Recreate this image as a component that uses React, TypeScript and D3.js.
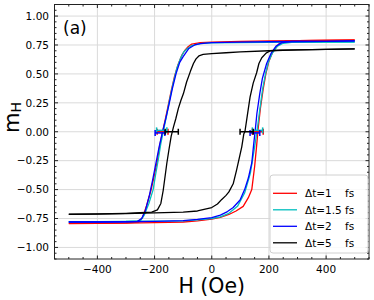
import { useRef, useEffect } from 'react';
import * as d3 from 'd3';

type Pt = [number, number];

// hysteresis branches, [H (Oe), m_H]
const dt1Down: Pt[] = [[500, 0.792], [400, 0.79], [300, 0.788], [200, 0.785], [100, 0.78], [0, 0.775], [-40, 0.77], [-70, 0.758], [-85, 0.73], [-95, 0.7], [-105, 0.66], [-118, 0.58], [-130, 0.48], [-142, 0.35], [-153, 0.22], [-163, 0.1], [-172, 0], [-182, -0.12], [-190, -0.25], [-203, -0.4], [-213, -0.51], [-228, -0.64], [-242, -0.74], [-255, -0.78], [-300, -0.787], [-400, -0.79], [-500, -0.792]];
const dt1Up: Pt[] = [[-500, -0.795], [-400, -0.792], [-300, -0.79], [-200, -0.786], [-100, -0.78], [-50, -0.77], [0, -0.755], [30, -0.74], [60, -0.715], [85, -0.685], [110, -0.645], [128, -0.57], [140, -0.5], [150, -0.3], [157, -0.12], [162, 0.02], [170, 0.2], [180, 0.37], [190, 0.51], [200, 0.61], [215, 0.7], [235, 0.76], [260, 0.785], [350, 0.79], [500, 0.795]];

const dt15Down: Pt[] = [[500, 0.775], [400, 0.776], [300, 0.774], [200, 0.772], [100, 0.77], [0, 0.768], [-40, 0.762], [-70, 0.745], [-85, 0.72], [-98, 0.69], [-110, 0.63], [-122, 0.55], [-135, 0.42], [-148, 0.27], [-158, 0.14], [-168, 0.02], [-178, -0.1], [-187, -0.24], [-197, -0.38], [-205, -0.5], [-220, -0.62], [-236, -0.72], [-250, -0.77], [-300, -0.775], [-400, -0.777], [-500, -0.778]];
const dt15Up: Pt[] = [[-500, -0.778], [-400, -0.777], [-300, -0.776], [-200, -0.773], [-100, -0.77], [-50, -0.762], [0, -0.75], [30, -0.735], [60, -0.705], [90, -0.645], [115, -0.53], [135, -0.36], [150, -0.13], [158, 0], [168, 0.19], [178, 0.37], [188, 0.5], [198, 0.6], [212, 0.68], [230, 0.74], [250, 0.765], [280, 0.772], [400, 0.776], [500, 0.778]];

const dt2Down: Pt[] = [[500, 0.785], [400, 0.782], [300, 0.78], [200, 0.778], [100, 0.775], [0, 0.77], [-40, 0.762], [-60, 0.75], [-80, 0.72], [-100, 0.65], [-112, 0.6], [-125, 0.5], [-138, 0.37], [-150, 0.23], [-162, 0.1], [-173, -0.01], [-184, -0.13], [-195, -0.27], [-207, -0.42], [-219, -0.56], [-232, -0.68], [-245, -0.75], [-260, -0.775], [-300, -0.778], [-400, -0.78], [-500, -0.78]];
const dt2Up: Pt[] = [[-500, -0.78], [-400, -0.78], [-300, -0.778], [-200, -0.775], [-100, -0.768], [-50, -0.758], [0, -0.742], [30, -0.72], [55, -0.69], [75, -0.655], [99, -0.59], [115, -0.5], [128, -0.4], [140, -0.27], [147, -0.1], [152, 0.01], [158, 0.16], [168, 0.33], [177, 0.46], [192, 0.59], [208, 0.68], [225, 0.74], [245, 0.77], [280, 0.78], [400, 0.782], [500, 0.785]];

const dt5Down: Pt[] = [[500, 0.716], [400, 0.712], [300, 0.708], [200, 0.7], [100, 0.69], [50, 0.683], [0, 0.675], [-30, 0.668], [-45, 0.655], [-55, 0.63], [-64, 0.59], [-75, 0.52], [-88, 0.43], [-99, 0.33], [-108, 0.27], [-117, 0.2], [-126, 0.11], [-134, 0.04], [-142, -0.04], [-150, -0.16], [-157, -0.27], [-164, -0.4], [-170, -0.51], [-178, -0.62], [-190, -0.675], [-210, -0.695], [-250, -0.7], [-300, -0.705], [-400, -0.71], [-500, -0.713]];
const dt5Up: Pt[] = [[-500, -0.715], [-400, -0.712], [-300, -0.708], [-200, -0.702], [-100, -0.695], [-50, -0.685], [0, -0.655], [20, -0.625], [35, -0.585], [50, -0.55], [60, -0.52], [75, -0.45], [87, -0.33], [97, -0.22], [105, -0.13], [112, -0.02], [116, 0], [125, 0.15], [134, 0.3], [145, 0.42], [157, 0.51], [165, 0.59], [175, 0.64], [190, 0.68], [205, 0.7], [240, 0.705], [300, 0.708], [400, 0.712], [500, 0.716]];

const seriesLabels = ['Δt=1', 'Δt=1.5', 'Δt=2', 'Δt=5'];
const seriesColors = ['#ff0000', '#00bfbf', '#0000ff', '#000000'];
const branches = [[dt1Down, dt1Up], [dt15Down, dt15Up], [dt2Down, dt2Up], [dt5Down, dt5Up]];

// coercive fields: left centre, right centre, half width, m offset
const coerciveLeft = [-172, -175, -181, -140];
const coerciveRight = [161, 160, 151, 122];
const coerciveErr = [19, 18, 17, 23];
const coerciveM = [0, 0.012, -0.01, 0];

const xTicks = [-400, -200, 0, 200, 400];
const yTicks = [-1.0, -0.75, -0.5, -0.25, 0, 0.25, 0.5, 0.75, 1.0];

export default function App() {
  const svgRef = useRef<SVGSVGElement>(null);

  useEffect(() => {
    if (!svgRef.current) return;
    const svg = d3.select(svgRef.current);
    svg.selectAll('*').remove();

    const width = 374;
    const height = 300;
    const margin = { top: 4.5, right: 5, bottom: 41, left: 54.5 };
    const font = 'DejaVu Sans, sans-serif';

    const x = d3.scaleLinear().domain([-550, 550]).range([margin.left, width - margin.right]);
    const y = d3.scaleLinear().domain([-1.1, 1.1]).range([height - margin.bottom, margin.top]);
    const [x0, x1] = x.range();
    const [y0, y1] = y.range();

    svg.attr('width', width).attr('height', height);

    // grid
    const grid = svg.append('g').attr('stroke', '#dadada').attr('stroke-width', 1);
    xTicks.forEach((t) => grid.append('line').attr('x1', x(t)).attr('x2', x(t)).attr('y1', y0).attr('y2', y1));
    yTicks.forEach((t) => grid.append('line').attr('x1', x0).attr('x2', x1).attr('y1', y(t)).attr('y2', y(t)));

    // curves
    const line = d3
      .line<Pt>()
      .x((d) => x(d[0]))
      .y((d) => y(d[1]));
    branches.forEach((pair, i) => {
      pair.forEach((b) => {
        svg
          .append('path')
          .datum(b)
          .attr('d', line)
          .attr('fill', 'none')
          .attr('stroke', seriesColors[i])
          .attr('stroke-width', 1.3)
          .attr('stroke-linejoin', 'round');
      });
    });

    // coercive field error bars
    seriesColors.forEach((c, i) => {
      [coerciveLeft[i], coerciveRight[i]].forEach((hc) => {
        const g = svg.append('g').attr('stroke', c).attr('stroke-width', 1.5);
        const yy = y(coerciveM[i]);
        g.append('line').attr('x1', x(hc - coerciveErr[i])).attr('x2', x(hc + coerciveErr[i])).attr('y1', yy).attr('y2', yy);
        [hc - coerciveErr[i], hc + coerciveErr[i]].forEach((e) =>
          g.append('line').attr('x1', x(e)).attr('x2', x(e)).attr('y1', yy - 3).attr('y2', yy + 3)
        );
      });
    });

    // frame + inward ticks on all sides
    const axes = svg.append('g').attr('stroke', '#222').attr('stroke-width', 1);
    axes.append('rect').attr('x', x0).attr('y', y1).attr('width', x1 - x0).attr('height', y0 - y1).attr('fill', 'none');
    const xMinor = d3.range(-550, 551, 50).filter((v) => !xTicks.includes(v));
    const yMinor = d3.range(-110, 111, 5).map((v) => v / 100).filter((v) => !yTicks.some((t) => Math.abs(t - v) < 1e-9));
    const tick = (xa: number, ya: number, xb: number, yb: number) =>
      axes.append('line').attr('x1', xa).attr('y1', ya).attr('x2', xb).attr('y2', yb);
    xTicks.forEach((t) => {
      tick(x(t), y0, x(t), y0 - 3.5);
      tick(x(t), y1, x(t), y1 + 3.5);
    });
    xMinor.forEach((t) => {
      tick(x(t), y0, x(t), y0 - 2);
      tick(x(t), y1, x(t), y1 + 2);
    });
    yTicks.forEach((t) => {
      tick(x0, y(t), x0 + 3.5, y(t));
      tick(x1, y(t), x1 - 3.5, y(t));
    });
    yMinor.forEach((t) => {
      tick(x0, y(t), x0 + 2, y(t));
      tick(x1, y(t), x1 - 2, y(t));
    });

    // tick labels
    const fmtY = d3.format('.2f');
    const minus = (s: string) => s.replace('-', '\u2212');
    xTicks.forEach((t) =>
      svg.append('text').attr('x', x(t)).attr('y', y0 + 13.5).attr('text-anchor', 'middle')
        .attr('font-family', font).attr('font-size', 10.5).attr('fill', '#000').text(minus(String(t)))
    );
    yTicks.forEach((t) =>
      svg.append('text').attr('x', x0 - 5.5).attr('y', y(t) + 3.8).attr('text-anchor', 'end')
        .attr('font-family', font).attr('font-size', 10.5).attr('fill', '#000').text(minus(fmtY(t)))
    );

    // axis titles
    svg.append('text').attr('x', (x0 + x1) / 2).attr('y', 293).attr('text-anchor', 'middle')
      .attr('font-family', font).attr('font-size', 20.5).attr('fill', '#000').text('H (Oe)');
    const yl = svg.append('text').attr('transform', 'translate(18.5,133) rotate(-90)')
      .attr('font-family', font).attr('font-size', 21).attr('fill', '#000');
    yl.append('tspan').text('m');
    yl.append('tspan').attr('font-size', 14).attr('dy', 2).text('H');

    svg.append('text').attr('x', 63).attr('y', 34).attr('font-family', font).attr('font-size', 17)
      .attr('fill', '#000').text('(a)');

    // legend
    const lg = svg.append('g');
    lg.append('rect').attr('x', 270).attr('y', 175).attr('width', 98).attr('height', 78).attr('rx', 3)
      .attr('fill', 'rgba(255,255,255,0.85)').attr('stroke', '#d0d0d0');
    seriesLabels.forEach((lab, i) => {
      const yy = 193.3 + i * 16.5;
      lg.append('line').attr('x1', 273).attr('x2', 297).attr('y1', yy).attr('y2', yy)
        .attr('stroke', seriesColors[i]).attr('stroke-width', 1.3);
      lg.append('text').attr('x', 305).attr('y', yy + 4).attr('font-family', font).attr('font-size', 10.5)
        .attr('fill', '#000').text(lab);
      lg.append('text').attr('x', 345).attr('y', yy + 4).attr('font-family', font).attr('font-size', 10.5)
        .attr('fill', '#000').text('fs');
    });
  }, []);

  return (
    <div style={{ position: 'absolute', left: 0, top: 0 }}>
      <svg ref={svgRef} style={{ display: 'block' }} />
    </div>
  );
}
